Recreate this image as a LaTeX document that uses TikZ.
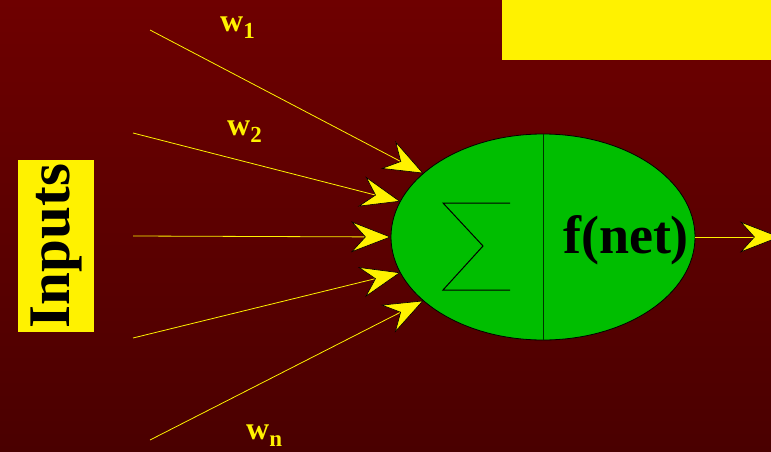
\documentclass[tikz,border=0pt]{standalone}
\usepackage{fontspec}
\setmainfont{Liberation Serif}
\usetikzlibrary{arrows.meta,shapes.geometric}
\definecolor{bgtop}{RGB}{110,0,0}
\definecolor{bgbot}{RGB}{74,0,0}
\definecolor{neurongreen}{RGB}{0,190,0}
\newcommand{\wsub}[1]{w\raisebox{-7pt}{\fontsize{23}{23}\selectfont #1}}
\begin{document}
\begin{tikzpicture}[x=1pt,y=-1pt,
  inarrow/.style={draw=yellow, line width=0.8pt,
    -{Stealth[length=40pt,width=31pt,inset=14pt,fill=yellow,color=black,line width=0.6pt]}},
  wlabel/.style={text=yellow, font=\fontsize{32}{32}\selectfont\bfseries, inner sep=0, anchor=base west}]
\shade[top color=bgtop,bottom color=bgbot] (0,0) rectangle (771,452);
\useasboundingbox (0,0) rectangle (771,452);
\fill[yellow] (502,0) rectangle (771,60);
\node[ellipse, draw=black, fill=neurongreen, line width=0.8pt, minimum width=304pt,
  minimum height=206pt, inner sep=0, outer sep=0] (neuron) at (543,237) {};
\draw[line width=0.8pt, black!80!green] (neuron.north) -- (neuron.south);
\draw[line width=1pt] (510,203) -- (443,203) -- (483,246) -- (443,290) -- (510,290);
\node[font=\fontsize{54}{54}\selectfont\bfseries, inner sep=0] (fnet) at (626,240) {f(net)};
\node[fill=yellow, rotate=90, minimum width=172pt, minimum height=76pt, inner sep=0,
  font=\fontsize{59}{59}\selectfont\bfseries] (inputs) at (56,246) {Inputs};
\coordinate (s1) at (150,30);
\coordinate (s2) at (133,133);
\coordinate (s3) at (133,236);
\coordinate (s4) at (133,338);
\coordinate (s5) at (150,440);
\draw[inarrow] (s1) -- (neuron.152);
\draw[inarrow] (s2) -- (neuron.166);
\draw[inarrow] (s3) -- (neuron.180);
\draw[inarrow] (s4) -- (neuron.194);
\draw[inarrow] (s5) -- (neuron.208);
\coordinate (out) at (780,237);
\draw[inarrow] (neuron.east) -- (out);
\node[wlabel] (w1) at (220,32) {\wsub{1}};
\node[wlabel] (w2) at (227,135) {\wsub{2}};
\node[wlabel] (wn) at (246,439) {\wsub{n}};
\end{tikzpicture}
\end{document}
